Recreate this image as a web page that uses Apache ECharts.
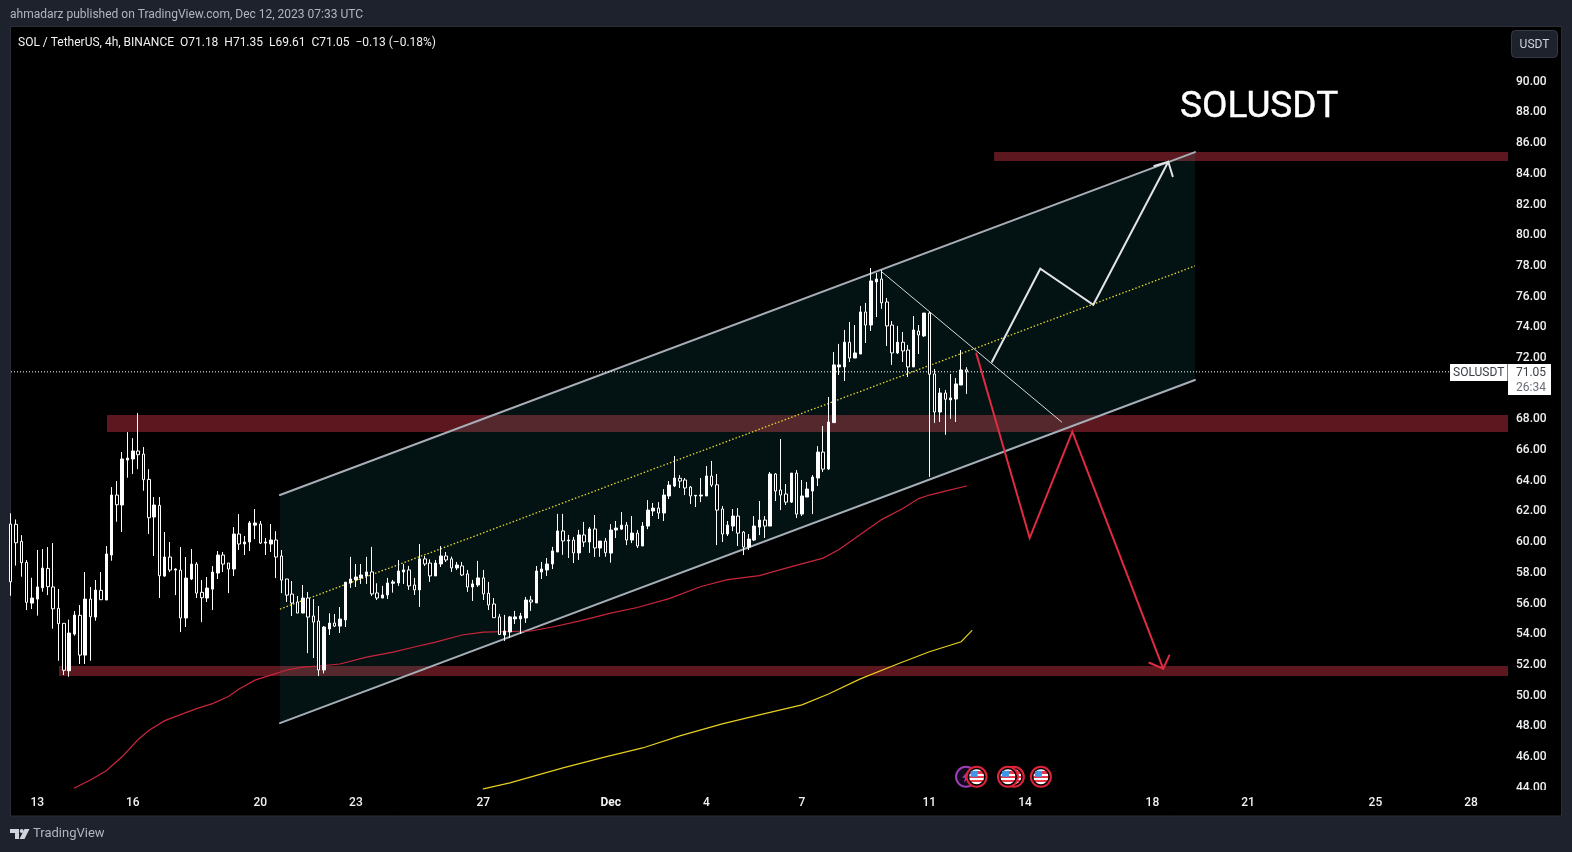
<!DOCTYPE html>
<html><head><meta charset="utf-8">
<style>html,body{margin:0;padding:0;background:#1e222d}#c{width:1572px;height:852px}</style>
<script src="https://cdn.jsdelivr.net/npm/echarts@6/dist/echarts.min.js"></script>
</head><body><div id="c"></div>
<script>
// 4h candles; bar 0 = 13 Nov 00:00, first visible bar = -5
const firstBar = -5;
const opens = [61.13,61.11,60.00,58.63,55.98,56.24,56.98,58.24,57.03,55.64,
54.66,51.57,53.96,55.18,52.59,56.24,55.07,56.81,56.18,59.11,
63.02,62.37,65.30,65.37,65.89,65.69,64.04,61.59,62.35,57.74,
58.98,58.13,58.13,55.01,57.55,58.52,56.68,56.31,56.89,57.94,
59.11,58.59,58.20,60.48,59.83,59.96,61.06,61.13,59.89,59.83,
60.09,59.05,57.55,56.57,56.05,55.33,56.31,55.14,54.81,51.62,
54.29,54.68,54.48,54.88,57.29,57.49,57.62,57.75,58.01,56.64,
56.31,56.51,57.27,57.29,58.01,58.14,57.16,56.84,58.86,58.59,
57.75,58.53,59.05,58.86,58.27,58.40,57.88,57.03,57.16,57.62,
56.62,55.92,55.08,53.90,54.10,54.95,54.95,55.01,56.18,55.99,
58.01,58.14,58.53,59.31,60.68,60.03,60.09,59.25,60.42,59.96,
60.81,59.57,60.02,59.24,60.74,60.80,61.06,60.09,60.54,59.70,
61.00,61.98,62.17,61.85,62.96,63.61,64.11,64.00,63.54,62.96,
62.96,62.96,64.26,63.69,62.11,60.48,61.00,61.65,60.61,59.63,
60.09,60.93,61.39,61.00,64.39,63.35,63.09,62.56,64.45,61.78,
62.89,63.28,64.13,65.82,64.72,67.74,71.37,71.37,72.98,71.95,
72.21,74.95,74.10,76.91,77.10,75.60,74.10,72.28,72.98,72.47,
71.37,73.71,73.39,74.88,70.91,68.43,69.67,69.22,69.28,70.19,71.18];
const closes = [57.37,59.91,58.61,56.03,56.31,57.03,58.26,57.05,55.61,54.64,
51.60,54.03,55.20,52.59,56.24,55.09,56.83,56.20,59.18,63.02,
62.39,65.37,65.43,65.89,65.65,64.02,61.54,62.37,57.76,58.98,
58.13,58.20,55.01,57.61,58.52,56.63,56.33,56.96,58.00,59.11,
58.52,58.20,60.48,59.83,59.96,61.20,61.20,59.89,59.96,60.09,
58.98,57.48,56.50,55.98,55.33,56.31,55.07,54.74,51.62,54.42,
54.68,54.48,54.94,57.34,57.55,57.68,57.81,58.01,56.58,56.31,
56.51,57.29,57.36,58.07,58.14,57.10,56.84,58.86,58.53,57.75,
58.59,59.05,58.79,58.27,58.46,57.81,57.03,57.23,57.62,56.58,
55.86,55.03,53.93,54.16,55.08,55.08,55.14,56.18,56.05,58.07,
58.20,58.53,59.38,60.68,60.03,60.09,59.25,60.42,59.96,60.81,
59.57,60.02,59.26,60.74,60.87,61.06,60.09,60.54,59.70,61.00,
62.04,62.17,61.85,63.02,63.67,64.13,63.93,63.48,62.96,63.00,
63.02,64.26,63.67,62.04,60.48,61.06,61.65,60.54,59.63,60.15,
61.00,61.39,61.00,64.39,63.28,63.02,62.56,64.45,61.78,62.96,
63.41,64.19,65.82,64.71,67.78,71.50,71.50,72.98,71.95,72.28,
74.95,74.10,76.97,77.10,75.54,74.04,72.28,72.98,72.41,71.37,
73.78,73.45,74.88,70.89,68.43,69.67,69.26,69.35,70.26,71.17,71.05];
const lows = [56.46,58.42,57.70,55.53,55.59,55.16,56.72,56.50,54.31,52.22,
51.29,51.18,53.85,52.01,52.01,52.22,54.83,56.18,56.18,58.74,
61.28,60.61,64.15,64.39,64.71,63.30,60.48,59.05,56.31,57.70,
58.00,56.50,54.09,54.42,57.48,56.31,54.74,56.05,55.53,57.55,
58.00,56.63,57.74,59.44,59.11,59.37,60.15,59.83,59.11,59.31,
57.61,56.63,56.05,55.14,55.33,55.33,52.72,52.40,51.23,51.40,
53.90,54.42,54.03,54.42,56.97,57.03,57.23,57.23,56.45,56.18,
56.31,56.25,56.66,57.10,57.23,56.84,56.51,55.73,58.40,57.36,
57.75,58.33,58.66,58.01,58.14,57.75,56.71,56.12,57.03,56.18,
55.53,55.01,53.90,53.51,53.71,54.62,53.97,54.69,55.47,55.99,
57.55,57.75,58.20,59.31,59.12,58.92,58.59,58.79,59.64,59.25,
58.99,59.00,59.00,58.61,60.22,60.74,59.76,59.89,59.57,59.70,
60.80,61.65,61.46,61.33,62.76,63.54,63.48,63.02,62.43,62.24,
62.56,62.96,63.54,59.76,59.96,60.35,60.67,59.70,59.11,59.44,
60.02,60.41,60.22,61.00,62.63,62.04,62.37,62.50,61.52,61.65,
62.89,61.78,63.61,64.52,64.65,67.74,70.84,70.45,71.69,71.95,
72.21,72.93,73.71,74.62,75.15,72.73,71.50,72.21,71.69,70.71,
71.37,72.21,73.32,64.20,67.72,67.78,66.94,67.98,67.78,70.19,69.61];
const highs = [61.83,61.43,60.41,58.78,57.63,59.44,59.50,59.63,59.89,56.90,
54.66,54.90,55.46,55.85,58.00,57.03,57.48,58.00,59.70,63.54,
63.93,65.82,67.12,66.73,68.36,66.15,64.71,62.89,62.89,60.61,
59.96,58.24,59.63,58.98,59.50,58.65,57.48,57.68,58.39,59.37,
59.31,58.59,60.93,61.78,60.35,61.33,62.11,61.33,60.22,61.13,
60.67,59.44,57.55,57.42,56.44,57.16,56.70,56.24,55.79,54.48,
55.31,55.27,55.72,57.34,58.99,58.53,58.53,58.99,59.64,57.27,
57.10,57.62,57.49,58.79,58.53,58.40,57.62,59.83,59.05,58.83,
58.79,59.70,59.31,59.01,58.66,58.66,58.14,57.49,58.73,58.14,
57.36,56.31,55.27,55.21,55.14,55.47,55.34,56.38,56.45,58.40,
58.66,58.92,59.64,61.79,61.79,60.42,60.29,60.75,61.27,60.94,
61.72,60.02,60.22,61.13,61.33,61.91,61.26,61.65,60.74,61.26,
62.69,62.50,62.56,63.41,63.93,65.56,64.32,64.13,63.61,63.02,
64.13,64.91,65.24,64.39,62.30,61.33,62.11,62.17,60.67,60.48,
61.65,62.63,61.65,64.52,64.45,66.67,63.74,64.45,64.65,64.00,
63.87,64.32,66.21,67.52,69.41,72.34,72.87,73.78,74.30,74.10,
75.34,75.54,77.82,77.49,77.69,75.86,74.36,74.04,73.65,72.80,
74.69,74.10,74.88,74.95,71.24,70.00,69.87,70.91,70.65,72.47,71.35];

const redMaBars = [7,10,13,16,19,21,24,27,30,33,36,38,41,44,47,50,53,57,62,67,71,75,80,84,89,93,97,102,108,113,119,125,130,136,141,148,151,155,159,163,166,168,171,175];
const redMa = [43.93,44.45,45.06,45.98,47.09,47.67,48.32,48.71,49.10,49.43,49.89,50.38,50.96,51.29,51.62,51.81,51.88,52.01,52.46,52.79,53.12,53.44,53.90,54.09,54.13,54.16,54.42,54.81,55.33,55.69,56.27,57.06,57.51,57.77,58.26,58.91,59.47,60.45,61.42,62.14,62.79,63.02,63.28,63.61];
const yellowMaBars = [84,89,99,107,114,121,129,136,144,149,155,162,168,174,176];
const yellowMa = [43.87,44.26,45.24,45.96,46.54,47.33,48.11,48.69,49.35,50.06,51.04,52.01,52.81,53.46,54.18];

const xTickBars = [0,18,42,60,84,108,126,144,168,186,210,228,252,270];
const xTickLabels = ['13','16','20','23','27','Dec','4','7','11','14','18','21','25','28'];
const yTicks = [44,46,48,50,52,54,56,58,60,62,64,66,68,70,72,74,76,78,80,82,84,86,88,90];
const lastClose = 71.05;

// Drawings on the chart, as [bar, price]
const channelUpper = [[45.7,63.02],[218.02,85.37]];
const channelLower = [[45.7,48.16],[218.02,70.52]];
const channelMid = [[45.7,55.59],[218.02,77.95]];
const whitePath = [[179.79,71.71],[188.89,77.77],[198.87,75.42],[212.99,84.74]];
const whiteHead = [[210.36,84.46],[212.99,84.74],[213.82,83.79]];
const whiteTrend = [[159.02,77.57],[192.92,67.78]];
const redPath = [[176.84,72.25],[186.89,60.22],[194.92,67.15],[212.05,51.70]];
const redHead = [[209.42,52.09],[212.05,51.70],[213.18,52.57]];
const xMin = -4.95, xMax = 276.97, yMin = 43.80, yMax = 93.52;
const bands = [[180.2,xMax,85.37,84.79],[13.13,xMax,68.23,67.13],[4.09,xMax,51.88,51.23]];
const events = [[174.9,44.66,0],[176.9,44.66,1],[183.9,44.66,1],[182.8,44.66,1],[189,44.66,1]];

const bars = opens.map((o,k)=>[k+firstBar,o,closes[k],lows[k],highs[k]]);
const pairs = (a,b)=>a.map((x,k)=>[x,b[k]]);
const pathLine = (data,color,width,z,extra)=>({type:'line',data,symbol:'none',silent:true,animation:false,z,
  lineStyle:Object.assign({color,width,cap:'round',join:'miter'},extra||{})});

const flagFill = ()=>{
  const st=[], cs=['#ffffff','#e9384c'], n=7;
  for(let i=0;i<n;i++){const c=cs[i%2]; st.push({offset:i/n,color:c},{offset:(i+1)/n,color:c});}
  return new echarts.graphic.LinearGradient(0,0,0,1,st);
};

const chart = echarts.init(document.getElementById('c'),null,{renderer:'canvas'});
const axisFont = 'Roboto';
chart.setOption({
  animation:false,
  backgroundColor:'#1e222d',
  grid:{left:11,right:64,top:27,bottom:62,show:false},
  xAxis:{type:'value',min:xMin,max:xMax,splitLine:{show:false},axisLine:{show:false},axisTick:{show:false},
    axisLabel:{customValues:xTickBars,color:'#f0f1f3',fontFamily:axisFont,fontSize:12,fontWeight:500,margin:7,hideOverlap:false,showMinLabel:true,showMaxLabel:true,
      formatter:v=>{const l=xTickLabels[xTickBars.indexOf(v)];return l==='Dec'?'{b|Dec}':l;},
      rich:{b:{fontWeight:'bold',color:'#f0f1f3',fontFamily:axisFont,fontSize:12}}}},
  yAxis:{type:'value',position:'right',min:yMin,max:yMax,scale:true,splitLine:{show:false},axisLine:{show:false},axisTick:{show:false},
    axisLabel:{customValues:yTicks,margin:8,formatter:v=>'{n|'+v.toFixed(2)+'}',
      rich:{n:{color:'#f0f1f3',fontFamily:axisFont,fontSize:12,fontWeight:500,padding:[1.5,0,0,0]}}}},
  series:[
    {type:'custom',z:1,silent:true,animation:false,clip:true,data:bands,encode:{x:[0,1],y:[2,3]},
      renderItem:(p,api)=>{const a=api.coord([api.value(0),api.value(2)]),b=api.coord([api.value(1),api.value(3)]);
        return {type:'rect',shape:{x:a[0],y:a[1],width:b[0]-a[0],height:b[1]-a[1]},style:{fill:'#5c181e'}};}},
    {type:'custom',z:2,silent:true,animation:false,clip:true,data:[[channelUpper[0][0],channelUpper[1][0],channelLower[0][1],channelUpper[0][1],channelLower[1][1],channelUpper[1][1]]],encode:{x:[0,1],y:[2,3]},
      renderItem:(p,api)=>{const x0=api.value(0),x1=api.value(1);
        const pts=[api.coord([x0,api.value(3)]),api.coord([x1,api.value(5)]),api.coord([x1,api.value(4)]),api.coord([x0,api.value(2)])];
        return {type:'polygon',shape:{points:pts},style:{fill:'rgba(27,185,200,0.10)'}};}},
    pathLine(channelUpper,'#a8aeb8',2,3),
    pathLine(channelLower,'#a8aeb8',2,3),
    pathLine(channelMid,'#e6d62e',1.3,3,{type:[1.5,2],cap:'butt'}),
    pathLine([[xMin,lastClose],[xMax,lastClose]],'#ffffff',1,3,{type:[1,2],cap:'butt'}),
    pathLine(pairs(redMaBars,redMa),'#c9263c',1.2,4),
    pathLine(pairs(yellowMaBars,yellowMa),'#e6cf1f',1.2,4),
    {type:'candlestick',z:5,silent:true,animation:false,clip:false,barWidth:3,data:bars,encode:{x:0,y:[1,2,3,4]},
      itemStyle:{color:'#ffffff',color0:'#000000',borderColor:'#ffffff',borderColor0:'#ffffff',borderWidth:1}},
    pathLine(whiteTrend,'#d6d8de',1,6),
    pathLine(whitePath,'#e2e4e8',2,6),
    pathLine(whiteHead,'#e2e4e8',2,6),
    pathLine(redPath,'#e02b42',2,6),
    pathLine(redHead,'#e02b42',2,6),
    {type:'custom',z:7,silent:true,animation:false,data:events,encode:{x:0,y:1},
      renderItem:(p,api)=>{const c=api.coord([api.value(0),api.value(1)]);
        if(api.value(2)===0){
          return {type:'group',x:c[0],y:c[1],children:[
            {type:'circle',shape:{cx:0,cy:0,r:10},style:{fill:'#120a1a',stroke:'#9c3fb5',lineWidth:2}},
            {type:'polygon',shape:{points:[[2,-6],[-4,1],[-1,1],[-2,6],[4,-1],[1,-1]]},style:{fill:'#9c3fb5'}}]};
        }
        return {type:'group',x:c[0],y:c[1],children:[
          {type:'circle',shape:{cx:0,cy:0,r:10},style:{fill:'#000',stroke:'#e0233a',lineWidth:2}},
          {type:'circle',shape:{cx:0,cy:0,r:7.5},style:{fill:flagFill()}},
          {type:'rect',shape:{x:-6,y:-6,width:7,height:6},style:{fill:'#3f97ea'}}]};
      }}
  ],
  graphic:[
    {type:'rect',z:-10,silent:true,shape:{x:10.5,y:26.5,width:1551,height:789.5},style:{fill:'#000000',stroke:'#2a2e39',lineWidth:1}},
    {type:'text',z:20,x:10,y:15,style:{text:'ahmadarz published on TradingView.com, Dec 12, 2023 07:33 UTC',fill:'#b2b5be',font:'12px Roboto',verticalAlign:'middle'}},
    {type:'text',z:20,x:18,y:42.5,style:{text:'SOL / TetherUS, 4h, BINANCE  O71.18  H71.35  L69.61  C71.05  \u22120.13 (\u22120.18%)',fill:'#f0f1f3',font:'12px Roboto',verticalAlign:'middle'}},
    {type:'text',z:20,x:1180,y:108,style:{text:'SOLUSDT',fill:'#ffffff',stroke:'#ffffff',lineWidth:0.4,font:'37px Roboto',verticalAlign:'middle'}},
    {type:'rect',z:20,shape:{x:1511.5,y:30.5,width:46,height:27,r:4},style:{fill:'#1e222d',stroke:'#363a45',lineWidth:1}},
    {type:'text',z:21,x:1534.5,y:44.5,style:{text:'USDT',fill:'#d1d4dc',font:'12px Roboto',textAlign:'center',verticalAlign:'middle'}},
    {type:'rect',z:20,shape:{x:1508,y:790,width:52,height:7},style:{fill:'#000'}},
    {type:'rect',z:20,shape:{x:1450,y:364,width:57.5,height:17},style:{fill:'#ffffff'}},
    {type:'text',z:21,x:1478.7,y:373,style:{text:'SOLUSDT',fill:'#3a3d46',font:'12px Roboto',textAlign:'center',verticalAlign:'middle'}},
    {type:'rect',z:20,shape:{x:1508,y:364,width:43,height:31},style:{fill:'#ffffff'}},
    {type:'text',z:21,x:1531,y:373,style:{text:'71.05',fill:'#3a3d46',font:'12px Roboto',textAlign:'center',verticalAlign:'middle'}},
    {type:'text',z:21,x:1531,y:387.5,style:{text:'26:34',fill:'#6b6e78',font:'12px Roboto',textAlign:'center',verticalAlign:'middle'}},
    {type:'polygon',z:20,shape:{points:[[10,829],[19,829],[19,839],[15,839],[15,833],[10,833]]},style:{fill:'#d1d4dc'}},
    {type:'circle',z:20,shape:{cx:21.7,cy:831,r:2},style:{fill:'#d1d4dc'}},
    {type:'polygon',z:20,shape:{points:[[24.5,829],[29.5,829],[24.5,839],[19.5,839]]},style:{fill:'#d1d4dc'}},
    {type:'text',z:20,x:33,y:834,style:{text:'TradingView',fill:'#b2b5be',font:'13px Roboto',verticalAlign:'middle'}}
  ]
});
</script></body></html>
